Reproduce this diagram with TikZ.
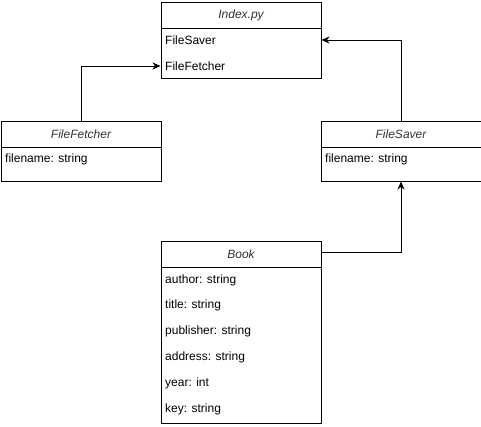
\documentclass[tikz,border=0pt]{standalone}
\usepackage{fontspec}
\setmainfont{Liberation Sans}
\usetikzlibrary{arrows.meta}
\begin{document}
\begin{tikzpicture}[x=1pt,y=-1pt,
  box/.style={draw, line width=1pt, minimum width=160pt, anchor=north west, inner sep=0pt, fill=white},
  hdr/.style={box, minimum height=26pt, font=\fontsize{12}{14}\selectfont\itshape, text=black!80},
  attr/.style={anchor=west, inner sep=0pt, font=\fontsize{12}{14}\selectfont},
  conn/.style={line width=1pt, -{Stealth[length=8pt,width=7pt,inset=2.5pt]}}]
\useasboundingbox (0,0) rectangle (481,426);
% Index.py
\node[hdr] (ixh) at (160.5,1.5) {Index.py};
\node[box, minimum height=50pt] (ixb) at (160.5,27.5) {};
\node[attr] (ixs) at (165,40) {FileSaver};
\node[attr] (ixf) at (165,66) {FileFetcher};
% FileFetcher
\node[hdr] (ffh) at (0.5,120.5) {FileFetcher};
\node[box, minimum height=34pt] (ffb) at (0.5,146.5) {};
\node[attr] (ffa) at (5,159) {filename: string};
% FileSaver
\node[hdr] (fsh) at (320.5,120.5) {FileSaver};
\node[box, minimum height=34pt] (fsb) at (320.5,146.5) {};
\node[attr] (fsa) at (325,159) {filename: string};
% Book
\node[hdr] (bkh) at (160.5,240.5) {Book};
\node[box, minimum height=156pt] (bkb) at (160.5,266.5) {};
\node[attr] (bk1) at (165,280) {author: string};
\node[attr] (bk2) at (165,305) {title: string};
\node[attr] (bk3) at (165,331) {publisher: string};
\node[attr] (bk4) at (165,357) {address: string};
\node[attr] (bk5) at (165,383) {year: int};
\node[attr] (bk6) at (165,409) {key: string};
% connectors
\draw[conn] (ffh.north) |- (ixb.west |- ixf);
\draw[conn] (fsh.north) |- (ixb.east |- ixs);
\draw[conn] ([yshift=2pt]bkh.east) -| (fsb.south);
\end{tikzpicture}
\end{document}
